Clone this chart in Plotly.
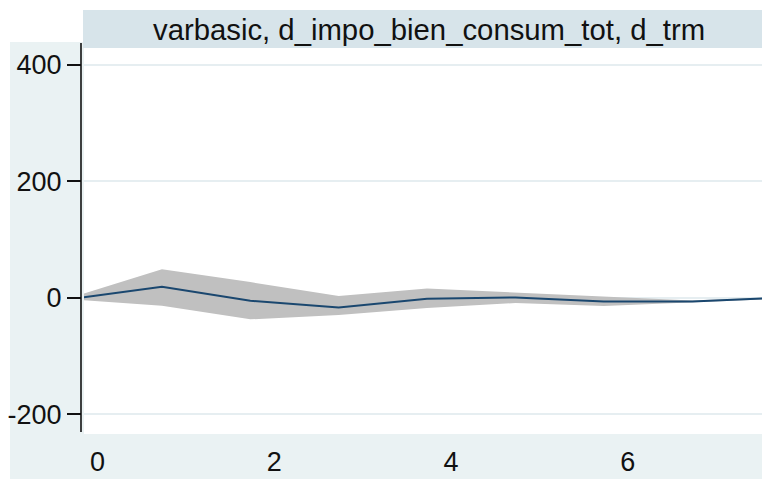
import plotly.graph_objects as go

# ---- data (impulse-response, steps 0..8) ----
step = [0, 1, 2, 3, 4, 5, 6, 7, 8]
irf = [-1.5, 19, -5, -16.5, -1.5, 0.5, -6.5, -6.5, 0]
ci_upper = [2, 49, 27, 3, 16, 9, 2, -4.5, 1.5]
ci_lower = [-3, -13.5, -37, -29.5, -17.5, -9, -14, -8.5, -1.5]

x_tick_labels = ["0", "2", "4", "6"]
x_tick_offset = 0.27          # labels sit slightly right of the steps in the reference
y_tick_values = [-200, 0, 200, 400]
title_text = "varbasic, d_impo_bien_consum_tot, d_trm"

W, H = 762, 479
ML, MR, MT, MB = 81, 0, 48, 45
PW = W - ML - MR
PH = H - MT - MB


def px_x(p):
    return (p - ML) / PW


def px_y(p):
    return (H - MB - p) / PH


BG = "#EAF2F3"
HEAD = "#D7E4EA"
FONT = "Liberation Sans, Arial, sans-serif"

fig = go.Figure()
fig.add_trace(go.Scatter(x=step, y=ci_lower, mode="lines", line=dict(width=0, color="#C0C0C0"),
                         hoverinfo="skip", showlegend=False))
fig.add_trace(go.Scatter(x=step, y=ci_upper, mode="lines", line=dict(width=0, color="#C0C0C0"),
                         fill="tonexty", fillcolor="#C0C0C0", hoverinfo="skip", showlegend=False))
fig.add_trace(go.Scatter(x=step, y=irf, mode="lines", line=dict(width=2, color="#1A476F"),
                         showlegend=False))

shapes = [
    # white strips left and top (outside the graph region)
    dict(type="rect", xref="paper", yref="paper", x0=px_x(-2), x1=px_x(10), y0=px_y(H + 2), y1=px_y(-2),
         fillcolor="white", line=dict(width=0), layer="below"),
    dict(type="rect", xref="paper", yref="paper", x0=px_x(-2), x1=px_x(W + 2), y0=px_y(42), y1=px_y(-2),
         fillcolor="white", line=dict(width=0), layer="below"),
    # subtitle bar
    dict(type="rect", xref="paper", yref="paper", x0=px_x(83), x1=px_x(W + 2), y0=1, y1=px_y(10),
         fillcolor=HEAD, line=dict(width=0), layer="below"),
    # white plot region
    dict(type="rect", xref="paper", yref="paper", x0=px_x(84), x1=px_x(W + 2), y0=0, y1=1,
         fillcolor="white", line=dict(width=0), layer="below"),
    # y axis line
    dict(type="line", xref="paper", yref="paper", x0=0, x1=0, y0=px_y(432), y1=px_y(43),
         line=dict(color="#111111", width=1.6)),
]

fig.update_layout(
    width=W, height=H,
    margin=dict(l=ML, r=MR, t=MT, b=MB, pad=0, autoexpand=False),
    paper_bgcolor=BG,
    plot_bgcolor="rgba(0,0,0,0)",
    font=dict(family=FONT, color="#111111"),
    shapes=shapes,
    showlegend=False,
    annotations=[dict(text=title_text, xref="paper", yref="paper", x=px_x(428.5), y=px_y(29),
                      xanchor="center", yanchor="middle", showarrow=False,
                      font=dict(size=29.3, family=FONT, color="#111111"))],
    xaxis=dict(
        domain=[px_x(84), 1],
        range=[0.118, 7.79],
        tickvals=[int(t) + x_tick_offset for t in x_tick_labels],
        ticktext=x_tick_labels,
        showgrid=False, zeroline=False, showline=False, automargin=False,
        ticks="outside", ticklen=4, tickcolor="rgba(0,0,0,0)",
        tickfont=dict(size=27, family=FONT, color="#111111"),
    ),
    yaxis=dict(
        anchor="free", position=0, automargin=False,
        range=[-234, 429.2],
        tickvals=y_tick_values,
        ticktext=[str(v) for v in y_tick_values],
        showgrid=True, gridcolor="#E6EEF1", gridwidth=1.5,
        zeroline=False, showline=False,
        ticks="outside", ticklen=14, tickwidth=1.6, tickcolor="#111111",
        tickfont=dict(size=27, family=FONT, color="#111111"),
    ),
)

fig.write_html("out.html", config={"displayModeBar": False},
               post_script="document.body.style.margin='0';document.body.style.overflow='hidden';"
                           "document.body.style.background='" + BG + "';")
